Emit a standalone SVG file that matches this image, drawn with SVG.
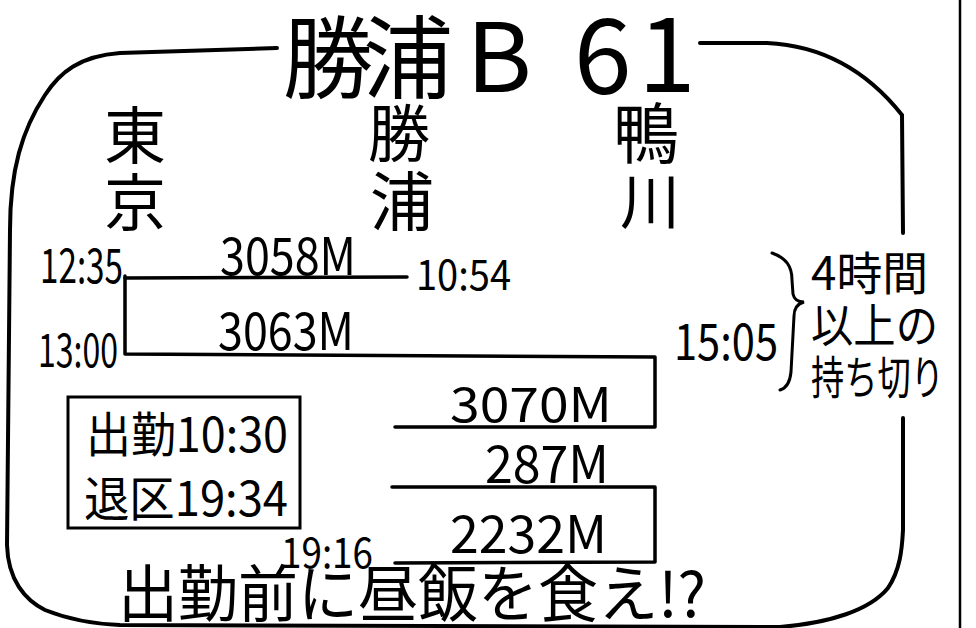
<svg xmlns="http://www.w3.org/2000/svg" width="976" height="628" viewBox="0 0 976 628">
<style>
  .t { font-family: "Noto Sans CJK JP", "Noto Sans", sans-serif; fill: #000; }
  .ln { fill: none; stroke: #000; stroke-width: 3.5; stroke-linecap: round; stroke-linejoin: round; }
  .frame { fill: none; stroke: #000; stroke-width: 4; stroke-linecap: round; }
</style>
<rect width="976" height="628" fill="#fff"/>
<!-- scan edge -->
<line x1="960" y1="0" x2="960" y2="628" stroke="#000" stroke-width="2.5"/>

<g id="frame">
  <path class="frame" d="M277,48 L120,53 C80,56 60,72 45,95 C22,130 10,170 10,230 L7,545 C8,580 25,600 45,610 C70,620 95,624 120,625 L780,627 C830,623 870,610 888,588 C900,570 902,550 903,530 L903,418"/>
  <path class="frame" d="M700,43 L767,43 C810,45 860,62 902,115 L903,233"/>
</g>

<g id="title">
  <text class="t" x="283" y="91" font-size="90">勝</text>
  <text class="t" x="363" y="91" font-size="90">浦</text>
  <text class="t" x="466" y="92" font-size="96" textLength="66" lengthAdjust="spacingAndGlyphs">B</text>
  <text class="t" x="574" y="94" font-size="104">6</text>
  <text class="t" x="638" y="92" font-size="104">1</text>
</g>

<g id="station-tokyo">
  <text class="t" x="104" y="159" font-size="62">東</text>
  <text class="t" x="104" y="226" font-size="62">京</text>
</g>
<g id="station-katsuura">
  <text class="t" x="368" y="157" font-size="62">勝</text>
  <text class="t" x="370" y="225" font-size="64">浦</text>
</g>
<g id="station-kamogawa">
  <text class="t" x="613" y="158" font-size="66">鴨</text>
  <text class="t" x="620" y="224" font-size="60">川</text>
</g>

<g id="connectors">
  <path class="ln" d="M125,278 L407,277"/>
  <path class="ln" d="M125,276 L125,354 L655,357 L655,427 L395,427"/>
  <path class="ln" d="M392,487 L655,487 L655,562 L395,563"/>
</g>

<g id="time-1235"><text class="t" x="40" y="283" font-size="48" textLength="83" lengthAdjust="spacingAndGlyphs">12:35</text></g>
<g id="time-1300"><text class="t" x="38" y="367" font-size="46" textLength="80" lengthAdjust="spacingAndGlyphs">13:00</text></g>
<g id="time-1054"><text class="t" x="416" y="290" font-size="42" textLength="95" lengthAdjust="spacingAndGlyphs">10:54</text></g>
<g id="time-1505"><text class="t" x="674" y="360" font-size="50" textLength="104" lengthAdjust="spacingAndGlyphs">15:05</text></g>
<g id="time-1916"><text class="t" x="281" y="568" font-size="42" textLength="92" lengthAdjust="spacingAndGlyphs">19:16</text></g>

<g id="train-3058M"><text class="t" x="220" y="275" font-size="52" textLength="136" lengthAdjust="spacingAndGlyphs">3058M</text></g>
<g id="train-3063M"><text class="t" x="218" y="350" font-size="52" textLength="136" lengthAdjust="spacingAndGlyphs">3063M</text></g>
<g id="train-3070M"><text class="t" x="450" y="422" font-size="48" textLength="162" lengthAdjust="spacingAndGlyphs">3070M</text></g>
<g id="train-287M"><text class="t" x="485" y="483" font-size="52" textLength="124" lengthAdjust="spacingAndGlyphs">287M</text></g>
<g id="train-2232M"><text class="t" x="450" y="553" font-size="52" textLength="157" lengthAdjust="spacingAndGlyphs">2232M</text></g>

<g id="note-wait">
  <path fill="none" stroke="#000" stroke-width="3" stroke-linecap="round" d="M772,253 C786,258 792,266 792,280 L793,294 C794,299 798,302 804,302 C797,304 794,308 794,316 L791,372 C790,382 787,388 780,390"/>
  <text class="t" x="811" y="290" font-size="46" textLength="117" lengthAdjust="spacingAndGlyphs">4時間</text>
  <text class="t" x="811" y="342" font-size="46" textLength="127" lengthAdjust="spacingAndGlyphs">以上の</text>
  <text class="t" x="811" y="394" font-size="46" textLength="133" lengthAdjust="spacingAndGlyphs">持ち切り</text>
</g>

<g id="duty-box">
  <rect x="68" y="397" width="232" height="131" fill="none" stroke="#000" stroke-width="3"/>
  <text class="t" x="86" y="452" font-size="48" textLength="202" lengthAdjust="spacingAndGlyphs">出勤10:30</text>
  <text class="t" x="84" y="516" font-size="48" textLength="204" lengthAdjust="spacingAndGlyphs">退区19:34</text>
</g>

<g id="caption">
  <text class="t" x="118" y="617" font-size="62" textLength="588" lengthAdjust="spacingAndGlyphs">出勤前に昼飯を食え!?</text>
</g>
</svg>
